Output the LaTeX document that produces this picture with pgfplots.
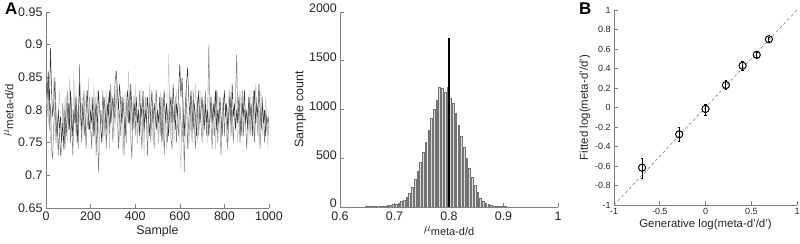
\documentclass[border=0pt]{standalone}
\usepackage{pgfplots}
\pgfplotsset{compat=1.18}
\usepackage{fontspec}
\setmainfont{Liberation Sans}
\definecolor{axgray}{gray}{0.5}
\begin{document}
\begin{tikzpicture}
\useasboundingbox (0bp,0bp) rectangle (800bp,244bp);
\pgfplotsset{
 mstyle/.style={
  scale only axis, anchor=south west,
  axis x line*=bottom, axis y line*=left,
  axis line style={draw=axgray, line width=0.6bp, -},
  every outer x axis line/.append style={-},
  every outer y axis line/.append style={-},
  tick style={draw=axgray, line width=0.6bp},
  tick align=inside, major tick length=4bp,
  xtick pos=left, ytick pos=left,
  every tick label/.append style={text=black!85},
  label style={text=black!85},
  /pgf/number format/assume math mode=true,
  /pgf/number format/1000 sep={},
  scaled ticks=false,
 }
}
% ---------------- Panel A: trace ----------------
\begin{axis}[mstyle, at={(46bp,36bp)}, width=223bp, height=196bp,
  xmin=0, xmax=1000, ymin=0.65, ymax=0.95,
  xtick={0,200,...,1000}, ytick={0.65,0.7,...,0.951},
  yticklabels={0.65,0.7,0.75,0.8,0.85,0.9,0.95},
  tick label style={font=\fontsize{12.5}{13}\selectfont},
  label style={font=\fontsize{12.5}{13}\selectfont},
  xlabel={Sample},
  ylabel={\fontsize{13}{13}\selectfont$\mu$\raisebox{-0.6ex}{\fontsize{11.5}{12}\selectfont meta-d/d}},
  xlabel style={yshift=2bp}, ylabel style={yshift=-2bp},
  clip=true]
\addplot[black!52, line width=0.45bp] table[x expr=\coordindex*5, y=v, row sep=\\]{v\\
0.82\\0.79\\0.85\\0.77\\0.81\\0.74\\0.725\\0.78\\0.80\\0.75\\0.79\\0.73\\0.77\\0.73\\0.76\\0.81\\0.78\\0.74\\0.79\\0.83\\
0.77\\0.81\\0.75\\0.79\\0.73\\0.78\\0.82\\0.76\\0.80\\0.74\\0.87\\0.79\\0.75\\0.80\\0.83\\0.78\\0.74\\0.79\\0.77\\0.82\\
0.78\\0.74\\0.80\\0.76\\0.82\\0.73\\0.79\\0.705\\0.75\\0.80\\0.78\\0.83\\0.76\\0.80\\0.74\\0.79\\0.82\\0.76\\0.84\\0.79\\
0.75\\0.80\\0.78\\0.83\\0.79\\0.74\\0.80\\0.76\\0.82\\0.78\\0.73\\0.79\\0.75\\0.81\\0.78\\0.83\\0.76\\0.725\\0.79\\0.82\\
0.76\\0.81\\0.75\\0.79\\0.83\\0.78\\0.74\\0.80\\0.76\\0.82\\0.79\\0.73\\0.78\\0.82\\0.75\\0.80\\0.78\\0.74\\0.79\\0.83\\
0.78\\0.75\\0.81\\0.76\\0.82\\0.79\\0.73\\0.78\\0.81\\0.75\\0.79\\0.83\\0.76\\0.74\\0.80\\0.78\\0.82\\0.75\\0.79\\0.76\\
0.81\\0.78\\0.75\\0.80\\0.705\\0.78\\0.82\\0.74\\0.79\\0.76\\0.81\\0.75\\0.83\\0.78\\0.74\\0.79\\0.82\\0.76\\0.80\\0.78\\
0.75\\0.81\\0.78\\0.83\\0.76\\0.79\\0.90\\0.81\\0.78\\0.74\\0.80\\0.76\\0.79\\0.83\\0.75\\0.80\\0.78\\0.73\\0.79\\0.82\\
0.76\\0.81\\0.78\\0.74\\0.79\\0.83\\0.76\\0.80\\0.75\\0.79\\0.82\\0.885\\0.78\\0.80\\0.75\\0.79\\0.83\\0.76\\0.80\\0.78\\
0.74\\0.79\\0.82\\0.76\\0.80\\0.78\\0.83\\0.75\\0.79\\0.82\\0.76\\0.80\\0.74\\0.78\\0.82\\0.79\\0.75\\0.80\\0.78\\0.76\\
0.78\\};
\addplot[black!22, line width=0.45bp] table[x expr=\coordindex*5, y=v, row sep=\\]{v\\
0.80\\0.84\\0.78\\0.82\\0.75\\0.80\\0.79\\0.85\\0.76\\0.81\\0.74\\0.79\\0.83\\0.78\\0.73\\0.80\\0.76\\0.82\\0.79\\0.75\\
0.80\\0.85\\0.78\\0.82\\0.76\\0.86\\0.79\\0.83\\0.75\\0.80\\0.78\\0.84\\0.79\\0.82\\0.76\\0.80\\0.83\\0.78\\0.85\\0.80\\
0.76\\0.82\\0.79\\0.84\\0.75\\0.80\\0.83\\0.78\\0.73\\0.80\\0.79\\0.75\\0.82\\0.78\\0.83\\0.76\\0.79\\0.74\\0.80\\0.78\\
0.82\\0.76\\0.79\\0.84\\0.78\\0.80\\0.75\\0.82\\0.79\\0.73\\0.78\\0.83\\0.76\\0.80\\0.86\\0.79\\0.75\\0.82\\0.78\\0.80\\
0.84\\0.79\\0.75\\0.80\\0.78\\0.83\\0.76\\0.79\\0.73\\0.80\\0.82\\0.76\\0.79\\0.84\\0.78\\0.80\\0.75\\0.79\\0.83\\0.78\\
0.80\\0.75\\0.79\\0.83\\0.78\\0.82\\0.76\\0.80\\0.74\\0.79\\0.885\\0.80\\0.76\\0.82\\0.78\\0.75\\0.80\\0.83\\0.78\\0.79\\
0.75\\0.705\\0.79\\0.82\\0.76\\0.80\\0.83\\0.78\\0.74\\0.79\\0.82\\0.76\\0.80\\0.78\\0.84\\0.79\\0.75\\0.80\\0.78\\0.83\\
0.79\\0.76\\0.82\\0.78\\0.80\\0.75\\0.79\\0.83\\0.78\\0.80\\0.76\\0.82\\0.74\\0.79\\0.83\\0.78\\0.80\\0.75\\0.79\\0.82\\
0.78\\0.80\\0.75\\0.79\\0.83\\0.78\\0.82\\0.76\\0.80\\0.79\\0.84\\0.78\\0.75\\0.80\\0.83\\0.79\\0.76\\0.82\\0.78\\0.80\\
0.79\\0.75\\0.80\\0.83\\0.78\\0.82\\0.76\\0.79\\0.84\\0.78\\0.80\\0.75\\0.79\\0.83\\0.76\\0.80\\0.78\\0.82\\0.79\\0.74\\
0.80\\};
\addplot[black!80, line width=0.45bp] table[x expr=\coordindex*5, y=v, row sep=\\]{v\\
0.84\\0.82\\0.86\\0.80\\0.895\\0.83\\0.79\\0.81\\0.85\\0.78\\0.76\\0.80\\0.77\\0.79\\0.75\\0.78\\0.74\\0.80\\0.76\\0.79\\
0.81\\0.77\\0.83\\0.79\\0.76\\0.80\\0.78\\0.82\\0.75\\0.79\\0.84\\0.80\\0.77\\0.81\\0.78\\0.76\\0.80\\0.83\\0.79\\0.77\\
0.80\\0.78\\0.82\\0.76\\0.79\\0.81\\0.77\\0.83\\0.80\\0.78\\0.75\\0.79\\0.82\\0.80\\0.77\\0.81\\0.79\\0.83\\0.78\\0.80\\
0.82\\0.79\\0.845\\0.86\\0.83\\0.80\\0.84\\0.81\\0.78\\0.82\\0.79\\0.76\\0.80\\0.83\\0.81\\0.78\\0.84\\0.80\\0.77\\0.81\\
0.79\\0.82\\0.78\\0.80\\0.76\\0.81\\0.79\\0.83\\0.77\\0.80\\0.78\\0.82\\0.79\\0.76\\0.80\\0.83\\0.78\\0.81\\0.79\\0.77\\
0.80\\0.78\\0.82\\0.79\\0.75\\0.80\\0.83\\0.78\\0.81\\0.79\\0.76\\0.80\\0.82\\0.78\\0.84\\0.80\\0.77\\0.81\\0.79\\0.83\\
0.87\\0.82\\0.85\\0.80\\0.76\\0.81\\0.84\\0.865\\0.82\\0.79\\0.83\\0.80\\0.77\\0.81\\0.79\\0.76\\0.80\\0.83\\0.78\\0.80\\
0.82\\0.79\\0.77\\0.81\\0.78\\0.80\\0.76\\0.79\\0.82\\0.78\\0.81\\0.79\\0.83\\0.77\\0.80\\0.78\\0.82\\0.79\\0.76\\0.80\\
0.83\\0.79\\0.81\\0.77\\0.80\\0.82\\0.78\\0.84\\0.79\\0.81\\0.77\\0.80\\0.78\\0.82\\0.79\\0.76\\0.81\\0.79\\0.83\\0.78\\
0.80\\0.77\\0.82\\0.79\\0.81\\0.76\\0.80\\0.83\\0.78\\0.81\\0.79\\0.84\\0.80\\0.77\\0.81\\0.78\\0.80\\0.76\\0.79\\0.78\\
0.79\\};
\end{axis}
% ---------------- Panel A: histogram ----------------
\begin{axis}[mstyle, at={(340bp,37bp)}, width=218bp, height=195bp,
  xmin=0.6, xmax=1, ymin=0, ymax=2000,
  xtick={0.6,0.7,0.8,0.9,1}, ytick={0,500,...,2000},
  xticklabels={0.6,0.7,0.8,0.9,1},
  tick label style={font=\fontsize{12.5}{13}\selectfont, inner sep=1.5bp},
  xticklabel style={yshift=-3.5bp},
  yticklabel style={yshift=3.5bp, xshift=-1.5bp},
  label style={font=\fontsize{12.5}{13}\selectfont},
  ylabel={Sample count},
  xlabel={\fontsize{13}{13}\selectfont$\mu$\raisebox{-0.6ex}{\fontsize{11}{12}\selectfont meta-d/d}},
  xlabel style={yshift=0bp}, ylabel style={yshift=-2bp}]
\addplot[ybar, bar width=0.003, bar shift=0pt, fill=black!15, draw=black!55, line width=0.35bp] coordinates {
(0.6175,1) (0.6225,1) (0.6275,2) (0.6325,2) (0.6375,3) (0.6425,3) (0.6475,4) (0.6525,4)
(0.6575,5) (0.6625,6) (0.6675,7) (0.6725,8) (0.6775,10) (0.6825,12) (0.6875,15) (0.6925,20)
(0.6975,26) (0.7025,32) (0.7075,40) (0.7125,55) (0.7175,70) (0.7225,100) (0.7275,145) (0.7325,205)
(0.7375,285) (0.7425,370) (0.7475,460) (0.7525,560) (0.7575,660) (0.7625,790) (0.7675,910) (0.7725,1000)
(0.7775,1100) (0.7825,1225) (0.7875,1215) (0.7925,1180) (0.7975,1225) (0.8025,1120) (0.8075,1060) (0.8125,960)
(0.8175,840) (0.8225,730) (0.8275,610) (0.8325,500) (0.8375,400) (0.8425,305) (0.8475,220) (0.8525,150)
(0.8575,95) (0.8625,60) (0.8675,38) (0.8725,25) (0.8775,17) (0.8825,12) (0.8875,9) (0.8925,7)
(0.8975,6) (0.9025,5) (0.9075,3) (0.9125,2) (0.9175,1) (0.9225,1)
};
\addplot[black, line width=2.2bp] coordinates {(0.8,0) (0.8,1730)};
\end{axis}
% ---------------- Panel B ----------------
\begin{axis}[mstyle, at={(614bp,39bp)}, width=183bp, height=195bp,
  xmin=-1, xmax=1, ymin=-1, ymax=1,
  xtick={-1,-0.5,0,0.5,1}, ytick={-1,-0.8,...,1.01},
  xticklabels={-1,-0.5,0,0.5,1},
  yticklabels={-1,-0.8,-0.6,-0.4,-0.2,0,0.2,0.4,0.6,0.8,1},
  tick label style={font=\fontsize{9}{10}\selectfont},
  label style={font=\fontsize{11.5}{12}\selectfont},
  xlabel={Generative log(meta-d'/d')},
  ylabel={Fitted log(meta-d'/d')},
  xlabel style={yshift=3bp}, ylabel style={yshift=-2bp}]
\addplot[black!55, dashed, dash pattern=on 3bp off 2.5bp, line width=0.5bp] coordinates {(-1,-1) (1,1)};
\addplot[black, only marks, mark=o, mark size=3.6bp, mark options={line width=1bp},
  error bars/.cd, y dir=both, y explicit,
  error bar style={line width=1.1bp, black},
  error mark options={line width=1bp, mark size=1.2bp, rotate=90}]
 coordinates {
(-0.693,-0.617) += (0,0.097) -= (0,0.108)
(-0.288,-0.275) += (0,0.072) -= (0,0.075)
(0,-0.015) += (0,0.048) -= (0,0.062)
(0.223,0.23) += (0,0.045) -= (0,0.05)
(0.405,0.429) += (0,0.04) -= (0,0.045)
(0.56,0.54) += (0,0.025) -= (0,0.025)
(0.693,0.70) += (0,0.02) -= (0,0.02)
};
\end{axis}
\node[anchor=north west, inner sep=0pt, font=\bfseries\fontsize{17}{17}\selectfont] at (5bp,241bp) {A};
\node[anchor=north west, inner sep=0pt, font=\bfseries\fontsize{17}{17}\selectfont] at (579bp,241bp) {B};
\end{tikzpicture}
\end{document}
